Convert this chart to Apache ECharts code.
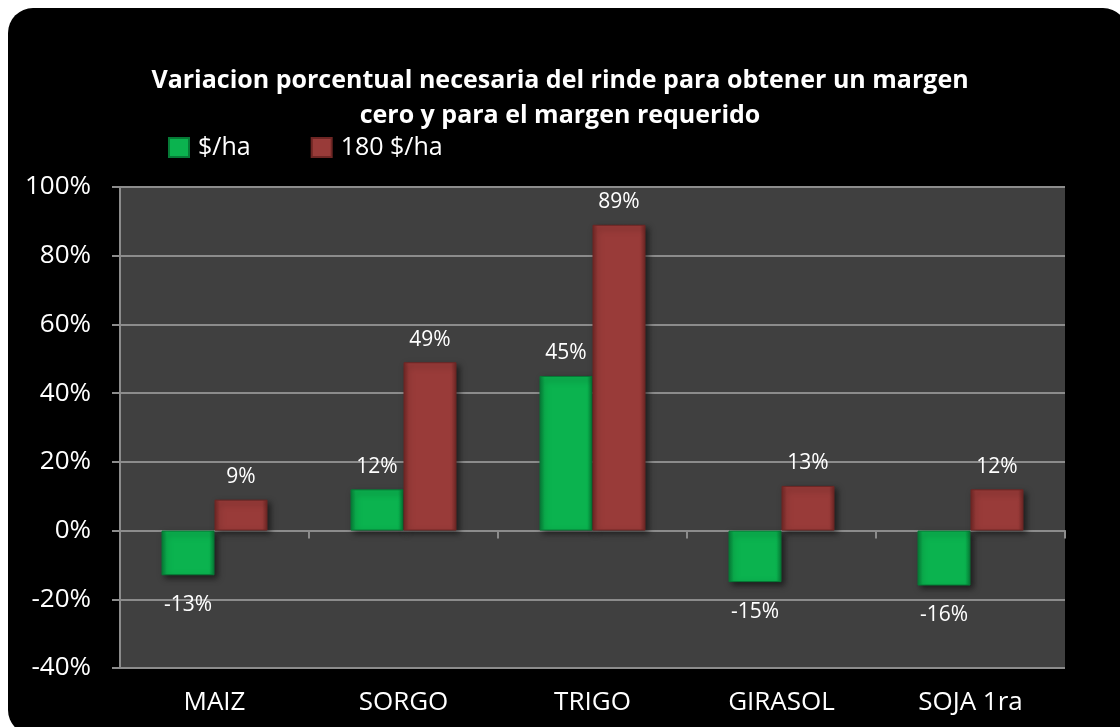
<!DOCTYPE html>
<html>
<head>
<meta charset="utf-8">
<script src="https://cdn.jsdelivr.net/npm/echarts@6/dist/echarts.min.js"></script>
<style>
html,body{margin:0;padding:0;background:#ffffff;}
#chart{width:1120px;height:727px;}
</style>
</head>
<body>
<div id="chart"></div>
<script>
const categories = ['MAIZ', 'SORGO', 'TRIGO', 'GIRASOL', 'SOJA 1ra'];
const seriesNames = ['$/ha', '180 $/ha'];
const zeroMargin = [-13, 12, 45, -15, -16];
const requiredMargin = [9, 49, 89, 13, 12];
const titleLines = ['Variacion porcentual necesaria del rinde para obtener un margen', 'cero y para el margen requerido'];

const FONT = '"Open Sans", sans-serif';

function barColor(dark, main) {
  return {
    type: 'linear', x: 0, y: 0, x2: 1, y2: 0,
    colorStops: [
      { offset: 0, color: dark },
      { offset: 0.1, color: main },
      { offset: 0.9, color: main },
      { offset: 1, color: dark }
    ]
  };
}

function labelled(values) {
  return values.map(v => ({
    value: v,
    label: v < 0 ? { position: 'bottom', distance: 19 } : { position: 'top', distance: 12 }
  }));
}

const chart = echarts.init(document.getElementById('chart'), null, { renderer: 'canvas' });

const labelStyle = {
  show: true,
  color: '#ffffff',
  fontFamily: FONT,
  fontSize: 21,
  formatter: p => p.value + '%'
};

const barItem = (dark, main, light) => ({
  color: barColor(dark, main),
  borderColor: dark,
  borderWidth: 1,
  shadowBlur: 6,
  shadowColor: 'rgba(0,0,0,0.55)',
  shadowOffsetX: 3,
  shadowOffsetY: 3
});

chart.setOption({
  backgroundColor: 'transparent',
  animation: false,
  graphic: [{
    type: 'rect',
    z: -10,
    shape: { x: 8, y: 8, width: 1120, height: 727, r: 25 },
    style: { fill: '#000000' }
  }],
  title: {
    text: titleLines.join('\n'),
    left: 'center',
    top: 58,
    textStyle: {
      color: '#ffffff',
      fontFamily: FONT,
      fontWeight: 'bold',
      fontSize: 25,
      lineHeight: 35
    }
  },
  legend: {
    left: 163,
    top: 130,
    itemWidth: 20,
    itemHeight: 19,
    itemGap: 60,
    icon: 'rect',
    textStyle: { color: '#ffffff', fontFamily: FONT, fontSize: 25, padding: [0, 0, 0, 4] },
    data: seriesNames
  },
  grid: {
    left: 120,
    right: 55,
    top: 187,
    bottom: 59,
    show: true,
    backgroundColor: '#404040',
    borderWidth: 0,
    containLabel: false
  },
  xAxis: [{
    type: 'category',
    data: categories,
    position: 'bottom',
    axisLine: { show: false, onZero: false },
    axisTick: { show: false },
    axisLabel: { color: '#ffffff', fontFamily: FONT, fontSize: 26, margin: 22 }
  }, {
    type: 'category',
    data: categories,
    position: 'bottom',
    axisLine: { show: true, onZero: true, lineStyle: { color: '#8c8c8c', width: 2 } },
    axisTick: { show: true, length: 8, lineStyle: { color: '#8c8c8c', width: 2 } },
    axisLabel: { show: false }
  }],
  yAxis: {
    type: 'value',
    min: -40,
    max: 100,
    interval: 20,
    axisLine: { show: true, lineStyle: { color: '#8c8c8c', width: 2 } },
    axisTick: { show: true, length: 8, lineStyle: { color: '#8c8c8c', width: 2 } },
    splitLine: { show: true, lineStyle: { color: '#8c8c8c', width: 2 } },
    axisLabel: { color: '#ffffff', fontFamily: FONT, fontSize: 26, margin: 29, formatter: '{value}%' }
  },
  series: [{
    name: seriesNames[0],
    type: 'bar',
    xAxisIndex: 0,
    barWidth: 53,
    barGap: '0%',
    data: labelled(zeroMargin),
    itemStyle: barItem('#067a36', '#0bb34f'),
    label: labelStyle
  }, {
    name: seriesNames[1],
    type: 'bar',
    xAxisIndex: 0,
    barWidth: 53,
    barGap: '0%',
    data: labelled(requiredMargin),
    itemStyle: barItem('#6e2624', '#993b39'),
    label: labelStyle
  }]
});
</script>
</body>
</html>
